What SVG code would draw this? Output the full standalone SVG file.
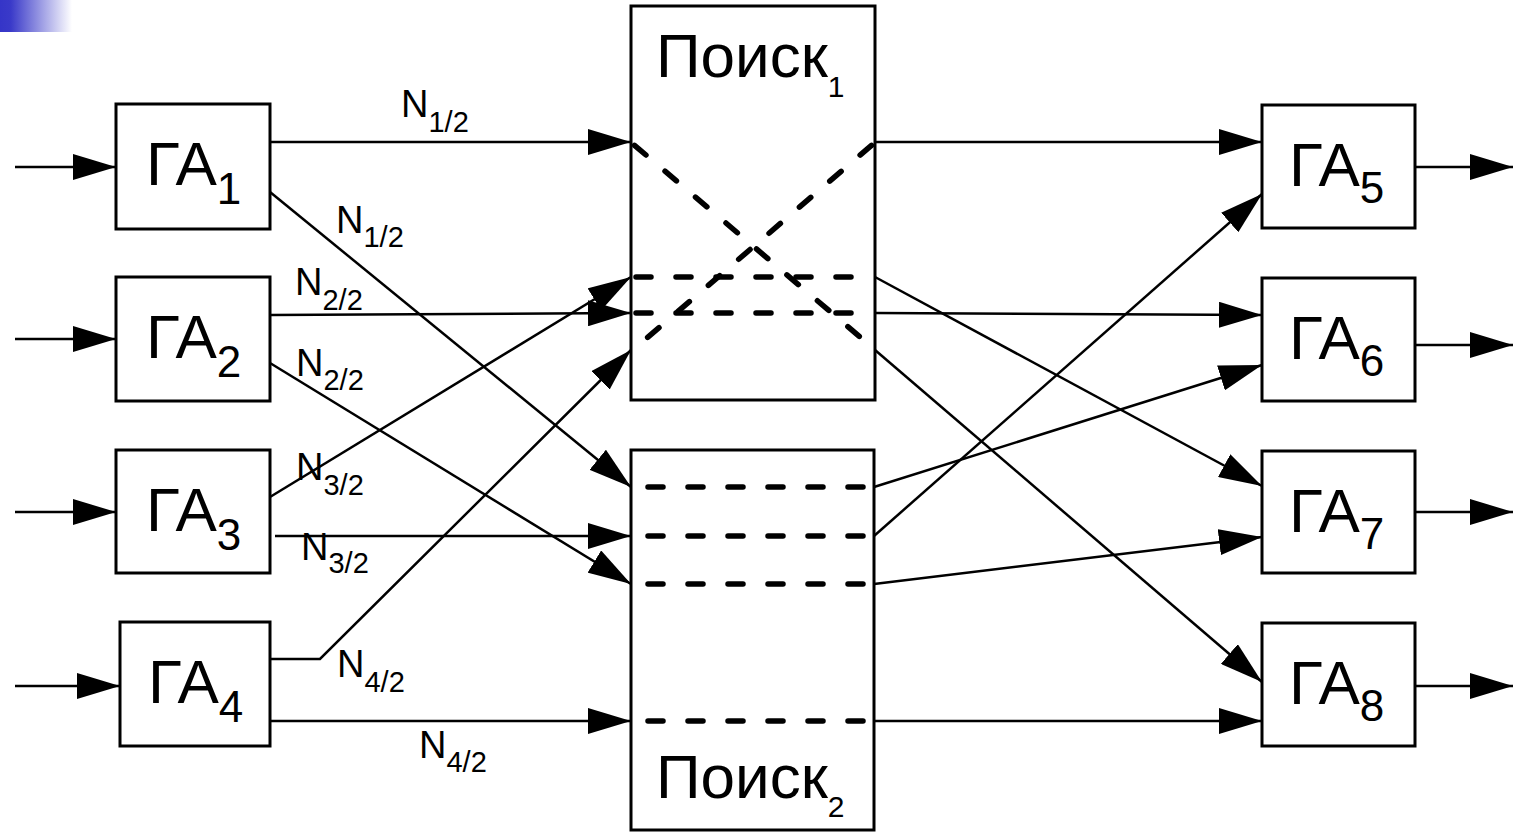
<svg xmlns="http://www.w3.org/2000/svg" width="1513" height="833" viewBox="0 0 1513 833">
<defs>
<linearGradient id="bg" x1="0" y1="0" x2="1" y2="0">
<stop offset="0" stop-color="#3535c8"/>
<stop offset="0.15" stop-color="#3a3ac9"/>
<stop offset="1" stop-color="#ffffff"/>
</linearGradient>
<marker id="ah" viewBox="0 0 43 26" refX="43" refY="13" markerWidth="43" markerHeight="26" markerUnits="userSpaceOnUse" orient="auto">
<path d="M0,0 L43,13 L0,26 z" fill="#000"/>
</marker>
<style>
.box{fill:#fff;stroke:#000;stroke-width:3}
.ar{fill:none;stroke:#000;stroke-width:2.5;marker-end:url(#ah)}
.ds{fill:none;stroke:#000;stroke-width:5.5;stroke-dasharray:15 25;stroke-linecap:round}
.t{font-family:"Liberation Sans",Arial,sans-serif;fill:#000}
.big{font-size:62px}
.sub{font-size:44px}
.pk{font-size:62px}
.pks{font-size:30px}
.n{font-size:38px}
.ns{font-size:29px}
</style>
</defs>
<rect x="0" y="0" width="72" height="32" fill="url(#bg)"/>

<g id="connectors">
<line class="ar" x1="15" y1="167" x2="116" y2="167"/>
<line class="ar" x1="15" y1="339" x2="116" y2="339"/>
<line class="ar" x1="15" y1="512" x2="116" y2="512"/>
<line class="ar" x1="15" y1="686" x2="120" y2="686"/>
<line class="ar" x1="270" y1="142" x2="631" y2="142"/>
<line class="ar" x1="270" y1="192" x2="631" y2="487"/>
<line class="ar" x1="270" y1="315" x2="631" y2="313"/>
<line class="ar" x1="270" y1="363" x2="631" y2="584"/>
<line class="ar" x1="270" y1="497" x2="631" y2="277"/>
<line class="ar" x1="275" y1="536" x2="631" y2="536"/>
<polyline class="ar" points="270,659 320,659 631,350"/>
<line class="ar" x1="270" y1="721" x2="631" y2="721"/>
<line class="ar" x1="875" y1="142" x2="1262" y2="142"/>
<line class="ar" x1="875" y1="277" x2="1262" y2="486"/>
<line class="ar" x1="875" y1="313" x2="1262" y2="315"/>
<line class="ar" x1="875" y1="350" x2="1262" y2="682"/>
<line class="ar" x1="874" y1="487" x2="1262" y2="365"/>
<line class="ar" x1="874" y1="536" x2="1262" y2="194"/>
<line class="ar" x1="874" y1="584" x2="1262" y2="537"/>
<line class="ar" x1="874" y1="721" x2="1262" y2="721"/>
<line class="ar" x1="1415" y1="167" x2="1513" y2="167"/>
<line class="ar" x1="1415" y1="345" x2="1513" y2="345"/>
<line class="ar" x1="1415" y1="512" x2="1513" y2="512"/>
<line class="ar" x1="1415" y1="686" x2="1513" y2="686"/>
</g>

<g id="search1">
<rect class="box" x="631" y="6" width="244" height="394"/>
<text class="t pk" x="656" y="77">Поиск<tspan class="pks" dy="20">1</tspan></text>
<line class="ds" x1="633" y1="144" x2="873" y2="348" stroke-dashoffset="-2"/>
<line class="ds" x1="873" y1="144" x2="633" y2="350" stroke-dashoffset="-2"/>
<line class="ds" x1="634" y1="277" x2="873" y2="277" stroke-dashoffset="-2"/>
<line class="ds" x1="634" y1="313" x2="873" y2="313" stroke-dashoffset="-2"/>
</g>

<g id="search2">
<rect class="box" x="631" y="450" width="243" height="380"/>
<text class="t pk" x="656" y="798">Поиск<tspan class="pks" dy="19">2</tspan></text>
<line class="ds" x1="634" y1="487" x2="872" y2="487" stroke-dashoffset="26"/>
<line class="ds" x1="634" y1="536" x2="872" y2="536" stroke-dashoffset="26"/>
<line class="ds" x1="634" y1="584" x2="872" y2="584" stroke-dashoffset="26"/>
<line class="ds" x1="634" y1="721" x2="872" y2="721" stroke-dashoffset="26"/>
</g>

<g id="ga1"><rect class="box" x="116" y="104" width="154" height="125"/><text class="t big" x="146" y="185">ГА<tspan class="sub" dy="19">1</tspan></text></g>
<g id="ga2"><rect class="box" x="116" y="277" width="154" height="124"/><text class="t big" x="146" y="358">ГА<tspan class="sub" dy="19">2</tspan></text></g>
<g id="ga3"><rect class="box" x="116" y="450" width="154" height="123"/><text class="t big" x="146" y="531">ГА<tspan class="sub" dy="19">3</tspan></text></g>
<g id="ga4"><rect class="box" x="120" y="622" width="150" height="124"/><text class="t big" x="148" y="703">ГА<tspan class="sub" dy="19">4</tspan></text></g>

<g id="ga5"><rect class="box" x="1262" y="105" width="153" height="123"/><text class="t big" x="1289" y="186">ГА<tspan class="sub" dy="17">5</tspan></text></g>
<g id="ga6"><rect class="box" x="1262" y="278" width="153" height="123"/><text class="t big" x="1289" y="359">ГА<tspan class="sub" dy="17">6</tspan></text></g>
<g id="ga7"><rect class="box" x="1262" y="451" width="153" height="122"/><text class="t big" x="1289" y="532">ГА<tspan class="sub" dy="17">7</tspan></text></g>
<g id="ga8"><rect class="box" x="1262" y="623" width="153" height="123"/><text class="t big" x="1289" y="704">ГА<tspan class="sub" dy="17">8</tspan></text></g>

<g id="labels">
<text class="t n" x="401" y="117">N<tspan class="ns" dy="15">1/2</tspan></text>
<text class="t n" x="336" y="233">N<tspan class="ns" dy="14">1/2</tspan></text>
<text class="t n" x="295" y="295">N<tspan class="ns" dy="15">2/2</tspan></text>
<text class="t n" x="296" y="376">N<tspan class="ns" dy="14">2/2</tspan></text>
<text class="t n" x="296" y="480">N<tspan class="ns" dy="15">3/2</tspan></text>
<text class="t n" x="301" y="560">N<tspan class="ns" dy="13">3/2</tspan></text>
<text class="t n" x="337" y="677">N<tspan class="ns" dy="15">4/2</tspan></text>
<text class="t n" x="419" y="758">N<tspan class="ns" dy="14">4/2</tspan></text>
</g>
</svg>
